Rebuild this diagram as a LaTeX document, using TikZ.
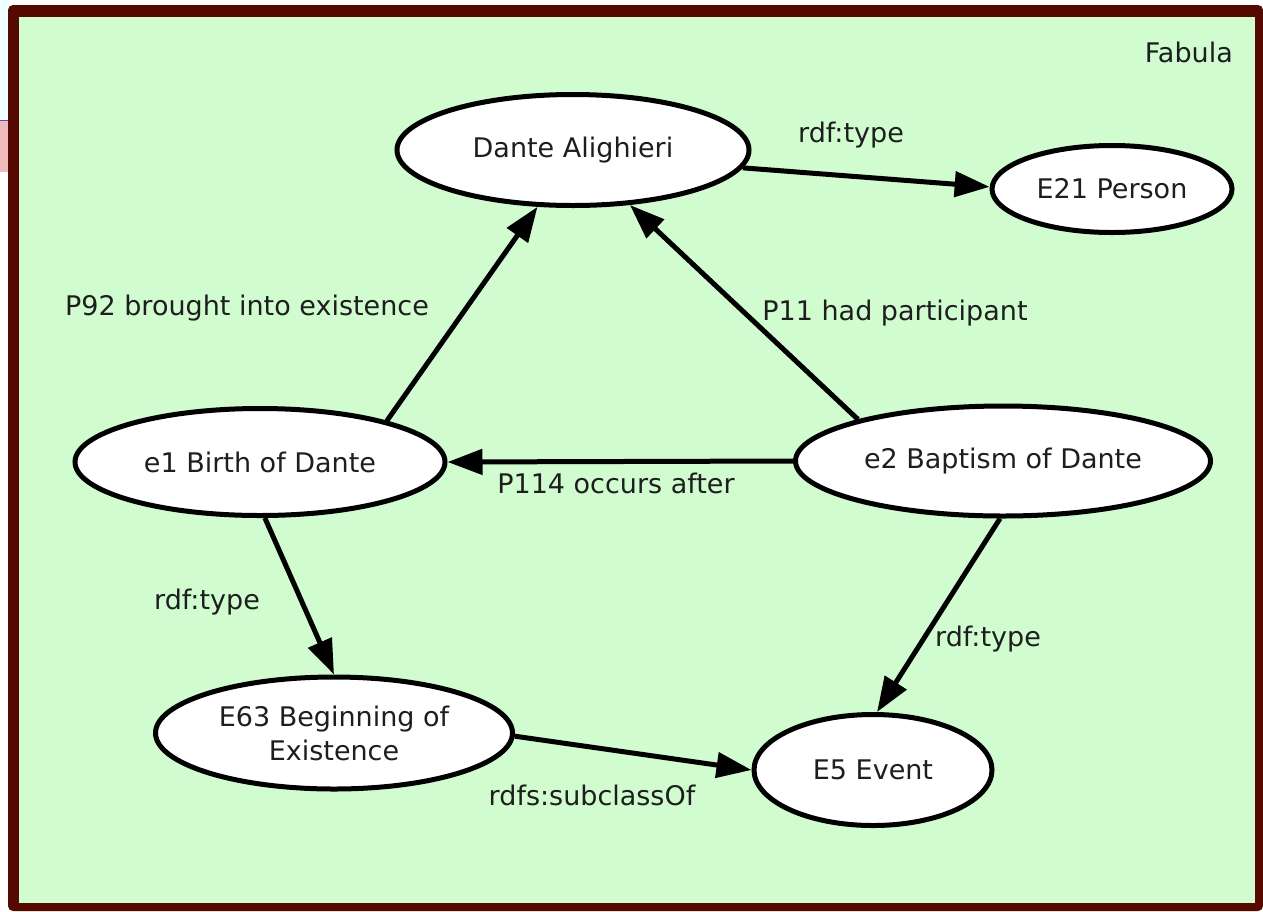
\documentclass[tikz,border=0pt]{standalone}
\usepackage{fontspec}
\setmainfont{DejaVu Sans}
\usetikzlibrary{arrows.meta,shapes.geometric}
\definecolor{framered}{RGB}{84,10,0}
\definecolor{bggreen}{RGB}{208,252,208}
\definecolor{txt}{RGB}{30,30,30}
\definecolor{palecyan}{RGB}{240,255,255}
\definecolor{pinkish}{RGB}{240,186,186}
\definecolor{purpleline}{RGB}{110,60,200}
\begin{document}
\begin{tikzpicture}[x=1pt,y=-1pt,
  ent/.style={ellipse, draw=black, line width=5pt, fill=white, inner sep=0pt,
    text=txt, font=\fontsize{27}{34}\selectfont, align=center},
  lbl/.style={text=txt, font=\fontsize{27}{34}\selectfont, inner sep=0pt, anchor=base},
  rel/.style={draw=black, line width=5pt, -{Triangle[length=35pt,width=25pt]}}]
\useasboundingbox (0,0) rectangle (1263,911);
\fill[white] (0,0) rectangle (1263,911);
\fill[palecyan] (0,0) rectangle (10,120);
\fill[pinkish] (0,121) rectangle (10,172);
\draw[purpleline, line width=1.5pt] (0,120.5) -- (10,120.5);
\fill[framered, rounded corners=5pt] (8,5) rectangle (1263,911);
\fill[bggreen] (19,17) rectangle (1255,903);

\node[ent, minimum width=352pt, minimum height=111pt] (dante) at (573,150) {Dante Alighieri};
\node[ent, minimum width=240pt, minimum height=87pt] (person) at (1112,189) {E21 Person};
\node[ent, minimum width=370pt, minimum height=107pt] (e1) at (260,462) {e1 Birth of Dante};
\node[ent, minimum width=415pt, minimum height=110pt] (e2) at (1003,461) {e2 Baptism of Dante};
\node[ent, minimum width=357pt, minimum height=112pt] (e63) at (334,733) {E63 Beginning of\\Existence};
\node[ent, minimum width=238pt, minimum height=111pt] (e5) at (873,770) {E5 Event};

\draw[rel] (dante.-6) -- (person.179);
\draw[rel] (e1.18) -- (dante.238);
\draw[rel] (e2.164) -- (dante.-44);
\draw[rel] (e2.180) -- (e1.0);
\draw[rel] (e1.-85) -- (e63.90);
\draw[rel] (e2.-93) -- (e5.86);
\draw[rel] (e63.-1) -- (e5.180);

\node[lbl] (l1) at (851,142) {rdf:type};
\node[lbl] (l2) at (247,315) {P92 brought into existence};
\node[lbl] (l3) at (895,320) {P11 had participant};
\node[lbl] (l4) at (616,493) {P114 occurs after};
\node[lbl] (l5) at (207,609) {rdf:type};
\node[lbl] (l6) at (988,646) {rdf:type};
\node[lbl] (l7) at (592,805) {rdfs:subclassOf};
\node[lbl, anchor=base east] (fab) at (1233,62) {Fabula};
\end{tikzpicture}
\end{document}
